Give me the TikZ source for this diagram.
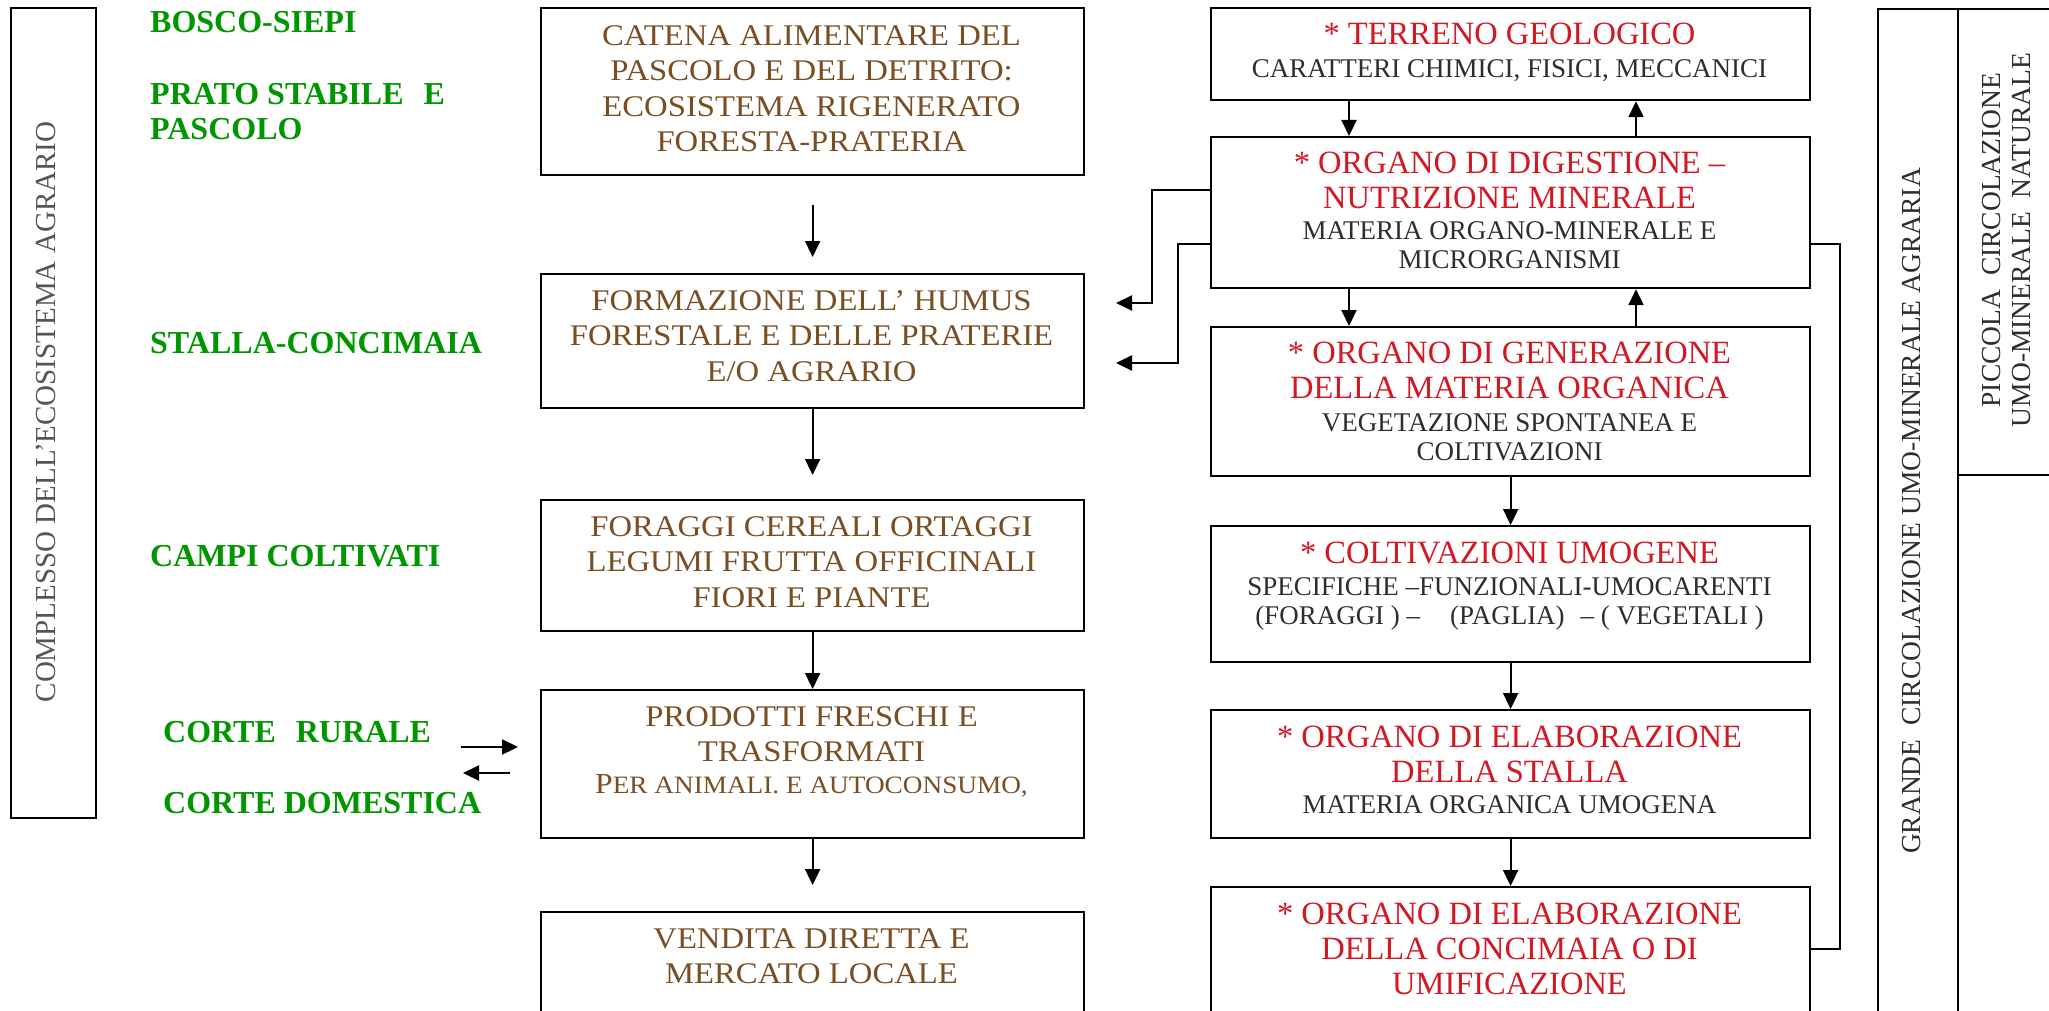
\documentclass[tikz,border=0pt]{standalone}
\usepackage{fontspec}
\setmainfont{Liberation Serif}
\newfontfamily\brownfam{Liberation Serif}[FakeStretch=1.09]
\usetikzlibrary{arrows.meta}
\definecolor{grn}{RGB}{0,150,0}
\definecolor{brn}{RGB}{122,78,35}
\definecolor{rd}{RGB}{210,25,35}
\definecolor{dk}{RGB}{45,45,45}
\definecolor{gy}{RGB}{85,85,85}
\tikzset{
  box/.style={draw=black, line width=2.2pt, rectangle, inner sep=0pt, anchor=north west},
  arr/.style={line width=2.2pt, -{Triangle[length=16pt,width=15pt]}},
  conn/.style={line width=2.2pt},
  grnlbl/.style={text=grn, font=\bfseries\fontsize{32}{35}\selectfont, inner sep=0pt},
  brntxt/.style={text=brn, font=\brownfam\fontsize{30}{35.5}\selectfont, align=center, inner sep=0pt, anchor=north},
  redtxt/.style={text=rd, font=\fontsize{32.5}{35}\selectfont, align=center, inner sep=0pt, anchor=north},
  dktxt/.style={text=dk, font=\fontsize{27}{29}\selectfont, align=center, inner sep=0pt, anchor=north},
  vtxt/.style={rotate=90, inner sep=0pt},
}
\begin{document}
\begin{tikzpicture}[x=1pt,y=-1pt]
\useasboundingbox (0,0) rectangle (2049,1011);
\clip (0,0) rectangle (2049,1011);

% left frame
\node[box, minimum width=85pt, minimum height=810pt] (LB) at (10,7) {};
\node[vtxt, text=gy, font=\fontsize{29}{30}\selectfont] (lefttxt) at (46,412) {COMPLESSO DELL’ECOSISTEMA AGRARIO};

% green labels
\node[grnlbl, anchor=base west] (bosco) at (150,33) {BOSCO-SIEPI};
\node[grnlbl, anchor=north west, align=left] (prato) at (150,83) {PRATO STABILE\hspace{20pt}E\\PASCOLO};
\node[grnlbl, anchor=base west] (stalla) at (150,353) {STALLA-CONCIMAIA};
\node[grnlbl, anchor=base west] (campi) at (150,566) {CAMPI COLTIVATI};
\node[grnlbl, anchor=base west] (rurale) at (163,742) {CORTE\hspace{20pt}RURALE};
\node[grnlbl, anchor=base west] (domestica) at (163,813) {CORTE DOMESTICA};

\coordinate (c1s) at (461,747);
\coordinate (c1e) at (518,747);
\coordinate (c2s) at (510,773);
\coordinate (c2e) at (463,773);
\draw[arr] (c1s) -- (c1e);
\draw[arr] (c2s) -- (c2e);

% middle column
\node[box, minimum width=543pt, minimum height=167pt] (B1) at (540,7) {};
\node[box, minimum width=543pt, minimum height=134pt] (B2) at (540,273) {};
\node[box, minimum width=543pt, minimum height=131pt] (B3) at (540,499) {};
\node[box, minimum width=543pt, minimum height=148pt] (B4) at (540,689) {};
\node[box, minimum width=543pt, minimum height=140pt] (B5) at (540,911) {};

\node[brntxt] (t1) at (811.5,25) {CATENA ALIMENTARE DEL\\PASCOLO E DEL DETRITO:\\ECOSISTEMA RIGENERATO\\FORESTA-PRATERIA};
\node[brntxt] (t2) at (811.5,290) {FORMAZIONE DELL’ HUMUS\\FORESTALE E DELLE PRATERIE\\E/O AGRARIO};
\node[brntxt] (t3) at (811.5,516) {FORAGGI CEREALI ORTAGGI\\LEGUMI FRUTTA OFFICINALI\\FIORI E PIANTE};
\node[brntxt] (t4) at (811.5,706) {PRODOTTI FRESCHI E\\TRASFORMATI};
\node[text=brn, font=\brownfam\fontsize{25}{28}\selectfont, inner sep=0pt, anchor=base] (t4b) at (811.5,793) {{\fontsize{29}{30}\selectfont P}ER ANIMALI. E AUTOCONSUMO,};
\node[brntxt] (t5) at (811.5,928) {VENDITA DIRETTA E\\MERCATO LOCALE};

\draw[arr] ([yshift=-29pt]B1.south) -- ([yshift=16pt]B2.north);
\draw[arr] (B2.south) -- ([yshift=24pt]B3.north);
\draw[arr] (B3.south) -- (B4.north);
\draw[arr] (B4.south) -- ([yshift=26pt]B5.north);

% right column
\node[box, minimum width=599pt, minimum height=92pt] (R1) at (1210,7) {};
\node[box, minimum width=599pt, minimum height=151pt] (R2) at (1210,136) {};
\node[box, minimum width=599pt, minimum height=149pt] (R3) at (1210,326) {};
\node[box, minimum width=599pt, minimum height=136pt] (R4) at (1210,525) {};
\node[box, minimum width=599pt, minimum height=128pt] (R5) at (1210,709) {};
\node[box, minimum width=599pt, minimum height=160pt] (R6) at (1210,886) {};

\node[redtxt] (r1a) at (1509.5,23) {* TERRENO GEOLOGICO};
\node[dktxt] (r1b) at (1509.5,59) {CARATTERI CHIMICI, FISICI, MECCANICI};
\node[redtxt] (r2a) at (1509.5,152) {* ORGANO DI DIGESTIONE –\\NUTRIZIONE MINERALE};
\node[dktxt] (r2b) at (1509.5,221) {MATERIA ORGANO-MINERALE E\\MICRORGANISMI};
\node[redtxt] (r3a) at (1509.5,342) {* ORGANO DI GENERAZIONE\\DELLA MATERIA ORGANICA};
\node[dktxt] (r3b) at (1509.5,413) {VEGETAZIONE SPONTANEA E\\COLTIVAZIONI};
\node[redtxt] (r4a) at (1509.5,542) {* COLTIVAZIONI UMOGENE};
\node[dktxt] (r4b) at (1509.5,577) {SPECIFICHE –FUNZIONALI-UMOCARENTI\\(FORAGGI ) –\hspace{30pt}(PAGLIA)\hspace{16pt}– ( VEGETALI )};
\node[redtxt] (r5a) at (1509.5,726) {* ORGANO DI ELABORAZIONE\\DELLA STALLA};
\node[dktxt] (r5b) at (1509.5,795) {MATERIA ORGANICA UMOGENA};
\node[redtxt] (r6a) at (1509.5,903) {* ORGANO DI ELABORAZIONE\\DELLA CONCIMAIA O DI\\UMIFICAZIONE};

\draw[arr] ([xshift=139pt]R1.south west) -- ([xshift=139pt]R2.north west);
\draw[arr] ([xshift=426pt]R2.north west) -- ([xshift=426pt]R1.south west);
\draw[arr] ([xshift=139pt]R2.south west) -- ([xshift=139pt]R3.north west);
\draw[arr] ([xshift=426pt]R3.north west) -- ([xshift=426pt]R2.south west);
\draw[arr] (R3.south) -- (R4.north);
\draw[arr] (R4.south) -- (R5.north);
\draw[arr] (R5.south) -- (R6.north);

\coordinate (L1) at (1116,303);
\coordinate (L2) at (1116,363);
\draw[arr] ([yshift=-54pt]R2.north west) -- ++(-58,0) |- (L1);
\draw[arr] ([yshift=-108pt]R2.north west) -- ++(-32,0) |- (L2);
\draw[conn] ([yshift=-108pt]R2.north east) -- ++(29,0) |- ([yshift=-63pt]R6.north east);

% far right frames
\node[box, minimum width=80pt, minimum height=1050pt] (FA) at (1877,8) {};
\node[box, minimum width=150pt, minimum height=466pt] (FB) at (1957,8) {};
\node[box, minimum width=150pt, minimum height=600pt] (FC) at (1957,474) {};
\node[vtxt, text=dk, font=\fontsize{27.5}{30}\selectfont] (grande) at (1911.5,511) {GRANDE\ \ CIRCOLAZIONE UMO-MINERALE AGRARIA};
\node[vtxt, align=center, text=dk, font=\fontsize{27.5}{30}\selectfont] (piccola) at (2006,240) {PICCOLA\ \ CIRCOLAZIONE\\UMO-MINERALE\ \ NATURALE};
\end{tikzpicture}
\end{document}
